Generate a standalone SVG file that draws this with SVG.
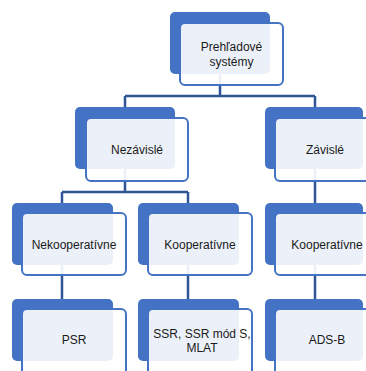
<svg xmlns="http://www.w3.org/2000/svg" width="366" height="371" viewBox="0 0 366 371">
<style>
.back{fill:#4472c4}
.front{fill:#ffffff;fill-opacity:0.9;stroke:#4472c4;stroke-width:2}
.conn{fill:none;stroke:#2f5597;stroke-width:2.5}
text{font-family:"Liberation Sans",Arial,sans-serif;font-size:12px;fill:#1a1a1a;text-anchor:middle}
</style>
<rect width="366" height="371" fill="#ffffff"/>
<g id="connectors">
<path class="conn" d="M220,70 V96 M125,96 H315 M125,96 V108 M315,96 V108"/>
<path class="conn" d="M125,165 V192 M62,192 H188 M62,192 V204 M188,192 V204"/>
<path class="conn" d="M315,165 V204"/>
<path class="conn" d="M62,260 V300 M188,260 V300 M315,260 V300"/>
</g>
<g id="n-prehladove">
<rect class="back" x="170" y="12" width="100" height="62" rx="5"/>
<rect class="front" x="180" y="23" width="103" height="62" rx="5"/>
<text x="231.5" y="51">Prehľadové</text>
<text x="231.5" y="66">systémy</text>
</g>
<g id="n-nezavisle">
<rect class="back" x="75" y="107" width="100" height="62" rx="5"/>
<rect class="front" x="86" y="118" width="102" height="63" rx="5"/>
<text x="137" y="154">Nezávislé</text>
</g>
<g id="n-zavisle">
<rect class="back" x="265" y="107" width="98" height="62" rx="5"/>
<rect class="front" x="275" y="118" width="102" height="63" rx="5"/>
<text x="325" y="154">Závislé</text>
</g>
<g id="n-nekooperativne">
<rect class="back" x="12" y="203" width="101" height="62" rx="5"/>
<rect class="front" x="22" y="213" width="104" height="62" rx="5"/>
<text x="74" y="248.5">Nekooperatívne</text>
</g>
<g id="n-kooperativne1">
<rect class="back" x="138" y="203" width="101" height="62" rx="5"/>
<rect class="front" x="148" y="213" width="104" height="62" rx="5"/>
<text x="200" y="248.5">Kooperatívne</text>
</g>
<g id="n-kooperativne2">
<rect class="back" x="265" y="203" width="98" height="62" rx="5"/>
<rect class="front" x="275" y="213" width="104" height="62" rx="5"/>
<text x="327" y="248.5">Kooperatívne</text>
</g>
<g id="n-psr">
<rect class="back" x="12" y="299" width="101" height="62" rx="5"/>
<rect class="front" x="22" y="309" width="104" height="66" rx="5"/>
<text x="74" y="344">PSR</text>
</g>
<g id="n-ssr">
<rect class="back" x="138" y="299" width="101" height="62" rx="5"/>
<rect class="front" x="148" y="309" width="104" height="66" rx="5"/>
<text x="202" y="338">SSR, SSR mód S,</text>
<text x="202" y="352">MLAT</text>
</g>
<g id="n-adsb">
<rect class="back" x="265" y="299" width="98" height="62" rx="5"/>
<rect class="front" x="275" y="309" width="104" height="66" rx="5"/>
<text x="327" y="344">ADS-B</text>
</g>
</svg>
